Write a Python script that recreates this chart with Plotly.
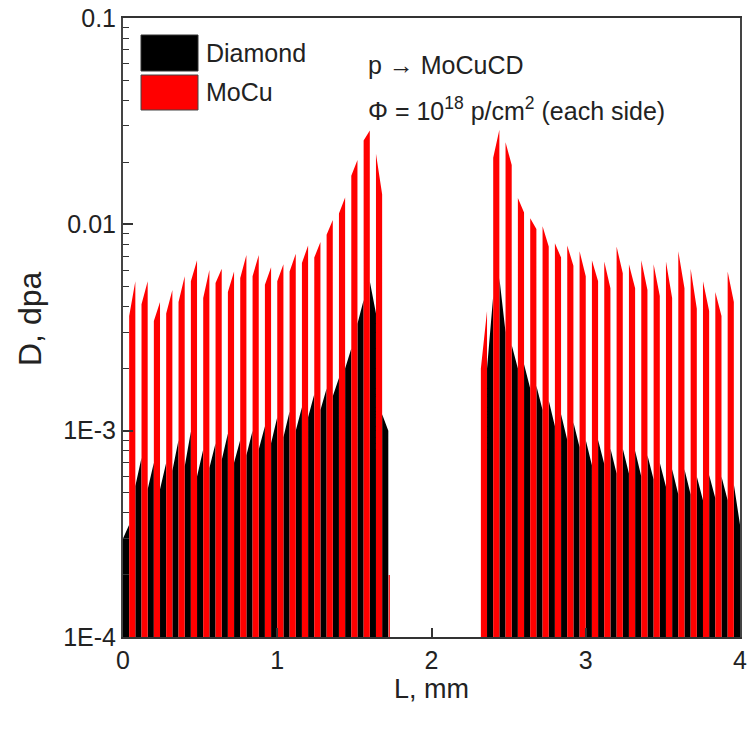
import plotly.graph_objects as go

# ---------------- data ----------------
BASE = 1e-4
diamond_thk = 0.04
mocu_thk = 0.04

left_diamond_x0 = [0.00, 0.08, 0.16, 0.24, 0.32, 0.40, 0.48, 0.56, 0.64, 0.72, 0.80,
                   0.88, 0.96, 1.04, 1.12, 1.20, 1.28, 1.36, 1.44, 1.52, 1.60, 1.68]
left_diamond_v0 = [3.0e-4, 5.4e-4, 5.2e-4, 5.2e-4, 6.4e-4, 6.7e-4, 6.0e-4, 6.6e-4, 7.2e-4, 7.0e-4, 7.6e-4,
                   8.1e-4, 8.7e-4, 9.3e-4, 1.0e-3, 1.16e-3, 1.26e-3, 1.47e-3, 2.0e-3, 3.3e-3, 5.3e-3, 1.2e-3]
left_diamond_v1 = [3.5e-4, 7.4e-4, 7.0e-4, 7.0e-4, 9.0e-4, 9.9e-4, 8.1e-4, 8.7e-4, 9.7e-4, 9.0e-4, 1.0e-3,
                   1.05e-3, 1.16e-3, 1.24e-3, 1.3e-3, 1.5e-3, 1.6e-3, 1.8e-3, 2.5e-3, 4.3e-3, 3.7e-3, 1.0e-3]

left_mocu_x0 = [0.04, 0.12, 0.20, 0.28, 0.36, 0.44, 0.52, 0.60, 0.68, 0.76, 0.84,
                0.92, 1.00, 1.08, 1.16, 1.24, 1.32, 1.40, 1.48, 1.56, 1.64]
left_mocu_v0 = [3.6e-3, 4.1e-3, 3.4e-3, 3.7e-3, 4.2e-3, 5.3e-3, 4.4e-3, 5.2e-3, 4.7e-3, 5.5e-3, 5.6e-3,
                5.1e-3, 5.3e-3, 5.9e-3, 6.5e-3, 6.9e-3, 8.9e-3, 1.13e-2, 1.72e-2, 2.55e-2, 2.2e-2]
left_mocu_v1 = [5.3e-3, 5.3e-3, 4.2e-3, 4.8e-3, 5.6e-3, 6.7e-3, 6.0e-3, 6.1e-3, 5.9e-3, 7.1e-3, 7.1e-3,
                6.2e-3, 6.4e-3, 7.2e-3, 7.9e-3, 8.2e-3, 1.05e-2, 1.35e-2, 2.05e-2, 2.85e-2, 1.4e-2]

# thin MoCu foil after the left stack
tail_mocu_x0 = [1.722]
tail_mocu_x1 = [1.730]
tail_mocu_v = [2.0e-4]

right_mocu_x0 = [2.32, 2.40, 2.48, 2.56, 2.64, 2.72, 2.80, 2.88, 2.96, 3.04, 3.12,
                 3.20, 3.28, 3.36, 3.44, 3.52, 3.60, 3.68, 3.76, 3.84, 3.92]
right_mocu_v0 = [2.0e-3, 2.1e-2, 2.5e-2, 1.34e-2, 1.07e-2, 9.8e-3, 8.1e-3, 7.9e-3, 7.4e-3, 6.7e-3, 6.6e-3,
                 7.8e-3, 6.4e-3, 6.7e-3, 6.4e-3, 6.6e-3, 7.4e-3, 6.1e-3, 5.3e-3, 4.7e-3, 5.9e-3]
right_mocu_v1 = [3.8e-3, 2.87e-2, 1.94e-2, 1.14e-2, 9.5e-3, 7.8e-3, 6.9e-3, 6.3e-3, 5.6e-3, 5.3e-3, 4.9e-3,
                 5.8e-3, 4.9e-3, 4.8e-3, 4.5e-3, 4.4e-3, 4.9e-3, 3.9e-3, 3.8e-3, 3.6e-3, 4.2e-3]

right_diamond_x0 = [2.36, 2.44, 2.52, 2.60, 2.68, 2.76, 2.84, 2.92, 3.00, 3.08, 3.16,
                    3.24, 3.32, 3.40, 3.48, 3.56, 3.64, 3.72, 3.80, 3.88, 3.96]
right_diamond_v0 = [2.0e-3, 5.5e-3, 2.6e-3, 2.1e-3, 1.65e-3, 1.4e-3, 1.2e-3, 1.1e-3, 9.0e-4, 9.0e-4, 8.2e-4,
                    8.2e-4, 8.0e-4, 7.6e-4, 7.0e-4, 6.5e-4, 6.5e-4, 6.0e-4, 6.1e-4, 6.0e-4, 5.5e-4]
right_diamond_v1 = [4.5e-3, 3.0e-3, 2.0e-3, 1.6e-3, 1.26e-3, 1.05e-3, 9.0e-4, 8.3e-4, 6.8e-4, 6.9e-4, 6.2e-4,
                    6.2e-4, 6.0e-4, 5.8e-4, 5.35e-4, 4.9e-4, 4.9e-4, 4.6e-4, 4.7e-4, 4.6e-4, 3.5e-4]

x_tick_vals = [0, 1, 2, 3, 4]
y_tick_vals = [1e-4, 1e-3, 1e-2, 1e-1]
y_tick_text = ["1E-4", "1E-3", "0.01", "0.1"]


def layer_path(layers):
    xs, ys = [], []
    for x0, x1, v0, v1 in sorted(layers):
        xs += [x0, x0, x1, x1]
        ys += [BASE, v0, v1, BASE]
    return xs, ys


diamond_layers = (
    [(x, x + diamond_thk, a, b) for x, a, b in zip(left_diamond_x0, left_diamond_v0, left_diamond_v1)]
    + [(x, x + diamond_thk, a, b) for x, a, b in zip(right_diamond_x0, right_diamond_v0, right_diamond_v1)]
)
mocu_layers = (
    [(x, x + mocu_thk, a, b) for x, a, b in zip(left_mocu_x0, left_mocu_v0, left_mocu_v1)]
    + [(a, b, v, v) for a, b, v in zip(tail_mocu_x0, tail_mocu_x1, tail_mocu_v)]
    + [(x, x + mocu_thk, a, b) for x, a, b in zip(right_mocu_x0, right_mocu_v0, right_mocu_v1)]
)

FONT = "Liberation Sans, Arial, sans-serif"
TXT = "#222222"

fig = go.Figure()
dx, dy = layer_path(diamond_layers)
fig.add_trace(go.Scatter(x=dx, y=dy, mode="lines", fill="toself", fillcolor="#000000",
                         line=dict(color="#000000", width=0), name="Diamond", showlegend=False,
                         hoverinfo="skip"))
mx, my = layer_path(mocu_layers)
fig.add_trace(go.Scatter(x=mx, y=my, mode="lines", fill="toself", fillcolor="#ff0000",
                         line=dict(color="#ff0000", width=0), name="MoCu", showlegend=False,
                         hoverinfo="skip"))
# invisible trace for the minor-tick axis
fig.add_trace(go.Scatter(x=[None], y=[None], yaxis="y2", showlegend=False, hoverinfo="skip"))

fig.update_layout(
    width=753, height=729,
    margin=dict(l=123, r=13, t=18, b=92),
    paper_bgcolor="white", plot_bgcolor="white",
    font=dict(family=FONT, size=25, color=TXT),
    xaxis=dict(range=[0, 4], tickvals=x_tick_vals, ticks="inside", ticklen=9, tickwidth=1.5,
               tickcolor="#333333", showline=True, linecolor="#333333", linewidth=1.5, mirror=True,
               showgrid=False, zeroline=False, tickfont=dict(size=25), automargin=False,
               title=dict(text="L, mm", font=dict(size=27), standoff=6)),
    yaxis=dict(type="log", range=[-4, -1], tickvals=y_tick_vals, ticktext=y_tick_text,
               ticks="inside", ticklen=10, tickwidth=1.5, tickcolor="#333333",
               showline=True, linecolor="#444444", linewidth=2, mirror=True,
               showgrid=False, zeroline=False, tickfont=dict(size=25), automargin=False),
    yaxis2=dict(type="log", range=[-4, -1], overlaying="y", side="left", dtick="D1",
                ticks="inside", ticklen=6, tickwidth=1.2, tickcolor="#333333", automargin=False,
                showticklabels=False, showgrid=False, showline=False, zeroline=False),
)

def px_x(p):
    return (p - 123) / 617.0

def px_y(p):
    return 1 - (p - 18) / 619.0

# y-axis title
fig.add_annotation(xref="paper", yref="paper", x=px_x(30), y=px_y(319), text="D, dpa",
                   textangle=-90, showarrow=False, xanchor="center", yanchor="middle",
                   font=dict(size=32))

# legend drawn as boxes + text
fig.add_shape(type="rect", xref="paper", yref="paper", x0=px_x(141), x1=px_x(198),
              y0=px_y(71), y1=px_y(35), fillcolor="#000000", line=dict(color="#333333", width=1))
fig.add_shape(type="rect", xref="paper", yref="paper", x0=px_x(141), x1=px_x(198),
              y0=px_y(110), y1=px_y(75), fillcolor="#ff0000", line=dict(color="#444444", width=1))
fig.add_annotation(xref="paper", yref="paper", x=px_x(204), y=px_y(53), text="Diamond",
                   showarrow=False, xanchor="left", yanchor="middle", font=dict(size=25))
fig.add_annotation(xref="paper", yref="paper", x=px_x(204), y=px_y(92), text="MoCu",
                   showarrow=False, xanchor="left", yanchor="middle", font=dict(size=25))
fig.add_annotation(xref="paper", yref="paper", x=px_x(366), y=px_y(65), text="p \u2192 MoCuCD",
                   showarrow=False, xanchor="left", yanchor="middle", font=dict(size=25))
fig.add_annotation(xref="paper", yref="paper", x=px_x(366), y=px_y(109),
                   text="\u03a6 = 10<sup>18</sup> p/cm<sup>2</sup> (each side)",
                   showarrow=False, xanchor="left", yanchor="middle", font=dict(size=25))

fig.write_html("out.html")
